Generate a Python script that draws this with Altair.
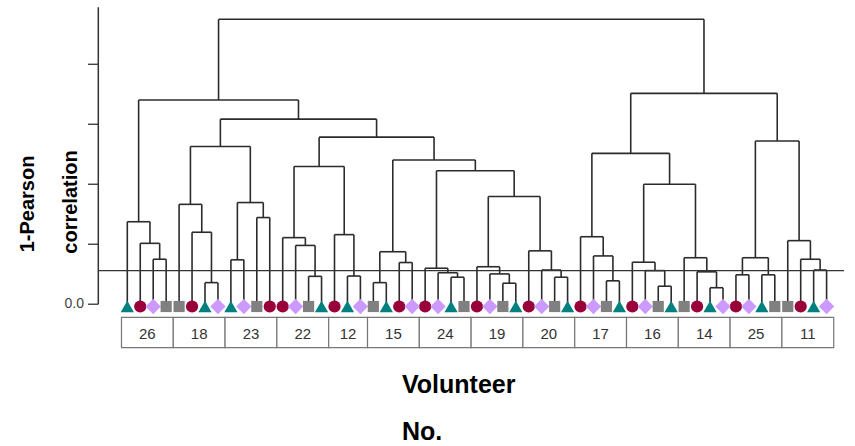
import altair as alt
import pandas as pd

# ---------------- data ----------------
volunteers = ["26", "18", "23", "22", "12", "15", "24", "19", "20", "17", "16", "14", "25", "11"]
leaf_counts = [4, 4, 4, 4, 3, 4, 4, 4, 4, 4, 4, 4, 4, 4]
leaf_shapes = [
    "tri", "circ", "diam", "sq",
    "sq", "circ", "tri", "diam",
    "tri", "diam", "sq", "circ",
    "circ", "diam", "sq", "tri",
    "circ", "tri", "diam",
    "sq", "tri", "circ", "diam",
    "circ", "diam", "tri", "sq",
    "circ", "diam", "sq", "tri",
    "circ", "diam", "sq", "tri",
    "circ", "diam", "sq", "tri",
    "circ", "diam", "sq", "tri",
    "sq", "circ", "tri", "diam",
    "circ", "diam", "tri", "sq",
    "sq", "circ", "tri", "diam",
]
# merges: node ids 0..54 are leaves, merge k creates node 55+k
merge_left = [2, 1, 0, 6, 5, 4, 8, 10, 61, 60, 14, 13, 12, 17, 16, 67, 19, 21, 71, 25, 24, 23,
              29, 28, 27, 33, 32, 31, 79, 76, 73, 70, 64, 57, 37, 36, 35, 41, 40, 39, 45, 44,
              43, 94, 91, 47, 49, 100, 53, 52, 51, 102, 99, 88]
merge_right = [3, 55, 56, 7, 58, 59, 9, 11, 62, 63, 15, 65, 66, 18, 68, 69, 20, 22, 72, 26, 74, 75,
               30, 77, 78, 34, 80, 81, 82, 83, 84, 85, 86, 87, 38, 89, 90, 42, 92, 93, 46, 95,
               96, 97, 98, 48, 50, 101, 54, 103, 104, 105, 106, 107]
merge_height = [0.150, 0.203, 0.275, 0.072, 0.240, 0.333, 0.148, 0.289, 0.339, 0.526,
                0.093, 0.196, 0.222, 0.094, 0.232, 0.459, 0.072, 0.139, 0.175,
                0.090, 0.105, 0.120, 0.070, 0.101, 0.125, 0.090, 0.114, 0.178,
                0.359, 0.445, 0.481, 0.557, 0.617, 0.681,
                0.078, 0.161, 0.225, 0.060, 0.112, 0.140, 0.055, 0.108, 0.155,
                0.400, 0.503, 0.098, 0.098, 0.155, 0.114, 0.150, 0.212,
                0.544, 0.703, 0.950]
threshold = [0.112]
y_ticks = [0.0, 0.2, 0.4, 0.6, 0.8]
y_axis_top = [0.99]

# ---------------- derived tables ----------------
n_leaves = len(leaf_shapes)
xs = {i: float(i) for i in range(n_leaves)}
hs = {i: 0.0 for i in range(n_leaves)}
segs = []
for k, (a, b, h) in enumerate(zip(merge_left, merge_right, merge_height)):
    n = n_leaves + k
    xs[n] = (xs[a] + xs[b]) / 2
    hs[n] = h
    segs.append((xs[a], hs[a], xs[a], h))
    segs.append((xs[b], hs[b], xs[b], h))
    segs.append((xs[a], h, xs[b], h))
links = pd.DataFrame(segs, columns=["x0", "y0", "x1", "y1"])

leaves = pd.DataFrame({"i": list(range(n_leaves)), "shape": leaf_shapes})

starts = []
s = 0
for c in leaf_counts:
    starts.append(s)
    s += c
boxes = pd.DataFrame({
    "vol": volunteers,
    "left": [st - 0.45 for st in starts],
    "right": [st + c - 0.45 for st, c in zip(starts, leaf_counts)],
})
boxes["mid"] = (boxes["left"] + boxes["right"]) / 2

# ---------------- scales ----------------
xscale = alt.Scale(domain=[-9.8301, 56.1931], nice=False, zero=False)
yscale = alt.Scale(domain=[-0.4727, 1.0143], nice=False, zero=False)
FONT = "Liberation Sans"

link_layer = alt.Chart(links).mark_rule(color="#2b2b2b", strokeWidth=1.6).encode(
    x=alt.X("x0:Q", scale=xscale, axis=None),
    y=alt.Y("y0:Q", scale=yscale, axis=None),
    x2="x1:Q",
    y2="y1:Q",
)

thr_layer = alt.Chart(pd.DataFrame({"v": threshold})).mark_rule(color="#333333", strokeWidth=1.2).encode(
    y=alt.Y("v:Q", scale=yscale, axis=None),
    x=alt.value(98),
    x2=alt.value(844),
)

axis_line = alt.Chart(pd.DataFrame({"a": [0.0], "b": y_axis_top})).mark_rule(color="#333333", strokeWidth=1.5).encode(
    y=alt.Y("a:Q", scale=yscale, axis=None),
    y2="b:Q",
    x=alt.value(98.3),
)

tick_layer = alt.Chart(pd.DataFrame({"t": y_ticks})).mark_rule(color="#333333", strokeWidth=1.3).encode(
    y=alt.Y("t:Q", scale=yscale, axis=None),
    x=alt.value(88),
    x2=alt.value(98.3),
)

zero_label = alt.Chart(pd.DataFrame({"t": [0.0], "lab": ["0.0"]})).mark_text(
    font=FONT, fontSize=14, color="#444444", align="right", baseline="middle"
).encode(
    y=alt.Y("t:Q", scale=yscale, axis=None),
    x=alt.value(84),
    text="lab:N",
)

box_layer = alt.Chart(boxes).mark_rect(fill="white", stroke="#777777", strokeWidth=1.2).encode(
    x=alt.X("left:Q", scale=xscale, axis=None),
    x2="right:Q",
    y=alt.value(317.3),
    y2=alt.value(347.7),
)

box_text = alt.Chart(boxes).mark_text(font=FONT, fontSize=15, color="#333333", baseline="middle").encode(
    x=alt.X("mid:Q", scale=xscale, axis=None),
    y=alt.value(333.5),
    text="vol:N",
)

shape_styles = {
    "tri": ("triangle-up", "#00807f", 175),
    "circ": ("circle", "#99003a", 150),
    "diam": ("diamond", "#cc99ff", 235),
    "sq": ("square", "#808080", 125),
}
symbol_layers = []
for key, (shp, col, sz) in shape_styles.items():
    symbol_layers.append(
        alt.Chart(leaves).transform_filter(alt.datum.shape == key).mark_point(
            filled=True, opacity=1, shape=shp, color=col, size=sz, strokeWidth=0
        ).encode(
            x=alt.X("i:Q", scale=xscale, axis=None),
            y=alt.value(306.5),
        )
    )

def title_text(txt, x, y, angle=0, align="left"):
    return alt.Chart(pd.DataFrame({"t": [txt]})).mark_text(
        font=FONT, fontSize=20 if angle else 25, fontWeight="bold", color="black",
        align=align, baseline="alphabetic", angle=angle,
    ).encode(x=alt.value(x), y=alt.value(y), text="t:N")

t1 = title_text("1-Pearson", 33.5, 204, angle=270, align="center")
t2 = title_text("correlation", 76.7, 202, angle=270, align="center")
t3 = title_text("Volunteer", 402, 392.5)
t4 = title_text("No.", 402, 440)

chart = alt.layer(
    link_layer, thr_layer, axis_line, tick_layer, zero_label,
    box_layer, box_text, *symbol_layers, t1, t2, t3, t4,
).properties(
    width=855, height=446,
    autosize=alt.AutoSizeParams(type="none"),
    padding={"left": 0, "top": 0, "right": 0, "bottom": 0},
    background="white",
).configure_view(strokeWidth=0)

chart.save("out.html", embed_options={"renderer": "svg", "actions": False})
